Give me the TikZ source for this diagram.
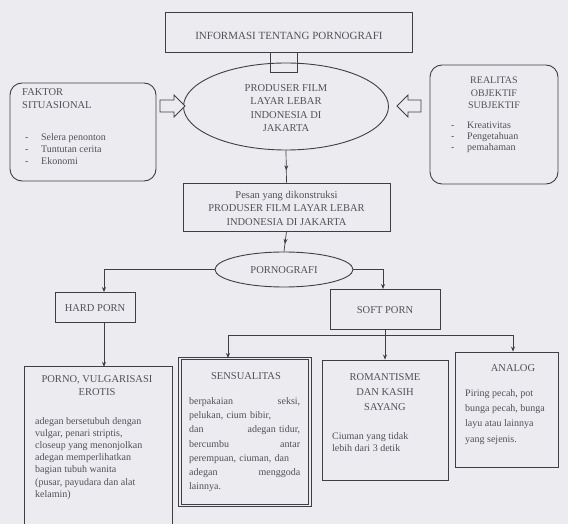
\documentclass[tikz,border=0pt]{standalone}
\usepackage{fontspec}
\setmainfont{Liberation Serif}
\usetikzlibrary{shapes.geometric,arrows.meta,decorations.markings}
\definecolor{paper}{RGB}{236,236,240}
\definecolor{ink}{RGB}{62,62,68}
\definecolor{inktext}{RGB}{80,80,88}
\begin{document}
\begin{tikzpicture}[x=1pt,y=-1pt,
  box/.style={draw=ink,line width=0.9pt,inner sep=0pt},
  rbox/.style={box,rounded corners=12pt},
  oval/.style={draw=ink,line width=0.9pt,ellipse,inner sep=0pt},
  txt/.style={text=inktext,font=\fontsize{10.5}{12.5}\selectfont,inner sep=0pt},
  ctxt/.style={txt,align=center},
  ltxt/.style={txt,align=left,anchor=north west},
  conn/.style={draw=ink,line width=0.7pt,-{Stealth[length=5pt,width=4pt]}},
  link/.style={draw=ink,line width=0.7pt},
  midarrow/.style={link,decoration={markings,mark=at position #1 with {\arrow{Stealth[length=5pt,width=4pt]}}},postaction={decorate}},
  blk/.style={draw=ink,line width=0.8pt,fill=paper,line join=miter},
]
\fill[paper] (0,0) rectangle (568,524);
\useasboundingbox (0,0) rectangle (568,524);

% top
\node[box,minimum width=247pt,minimum height=40pt] (info) at (288.5,32) {};
\node[ctxt,font=\fontsize{11}{13}\selectfont] (infot) at (289,36) {INFORMASI TENTANG PORNOGRAFI};
\draw[blk] (270,52) rectangle (297,72);

% producer ellipse
\node[oval,minimum width=205pt,minimum height=87pt] (prod) at (286,106.5) {};
\node[ctxt,font=\fontsize{10.5}{13.3}\selectfont] (prodt) at (286,108) {PRODUSER FILM\\LAYAR LEBAR\\INDONESIA DI\\JAKARTA};

% left rounded box
\node[rbox,minimum width=146pt,minimum height=98pt] (situ) at (83,132) {};
\node[ltxt,font=\fontsize{10.5}{13}\selectfont] (situt) at (22,88) {FAKTOR\\SITUASIONAL};
\node[ltxt,font=\fontsize{10}{12}\selectfont] (situb) at (25,133) {\makebox[16pt][l]{-}Selera penonton\\\makebox[16pt][l]{-}Tuntutan cerita\\\makebox[16pt][l]{-}Ekonomi};

% right rounded box
\node[rbox,minimum width=128pt,minimum height=119pt] (real) at (494,124.5) {};
\node[ctxt,font=\fontsize{10}{12.5}\selectfont] (realt) at (494,93) {REALITAS\\OBJEKTIF\\SUBJEKTIF};
\node[ltxt,font=\fontsize{10}{11}\selectfont] (realb) at (451,122) {\makebox[16pt][l]{-}Kreativitas\\\makebox[16pt][l]{-}Pengetahuan\\\makebox[16pt][l]{-}pemahaman};

% block arrows
\draw[blk] (160,100) -- (174,100) -- (174,95) -- (185,106) -- (174,117) -- (174,112) -- (160,112) -- cycle;
\draw[blk] (421,100) -- (408,100) -- (408,95) -- (397,106) -- (408,117) -- (408,112) -- (421,112) -- cycle;

% message box
\node[box,minimum width=207pt,minimum height=48pt] (msg) at (286.5,207) {};
\node[ctxt,font=\fontsize{10.5}{13.5}\selectfont] (msgt) at (286.5,208) {Pesan yang dikonstruksi\\PRODUSER FILM LAYAR LEBAR\\INDONESIA DI JAKARTA};
\draw[midarrow=0.62] (prod.south) -- (msg.north);

% pornografi ellipse
\node[oval,minimum width=138pt,minimum height=35pt] (porn) at (284,269.5) {};
\node[ctxt] (pornt) at (284,270) {PORNOGRAFI};
\draw[midarrow=0.62] (msg.south) -- (porn.north);

% hard / soft
\node[box,minimum width=80pt,minimum height=30pt] (hard) at (95,307) {};
\node[ctxt] (hardt) at (95,308) {HARD PORN};
\node[box,minimum width=110pt,minimum height=40pt] (soft) at (385,309) {};
\node[ctxt] (softt) at (385,310) {SOFT PORN};
\coordinate (hardin) at (104,292);
\coordinate (softin) at (383,289);
\draw[conn] (porn.west) -| (hardin);
\draw[conn] (porn.east) -| (softin);

% porno box (open at the bottom edge)
\node[minimum width=147pt,minimum height=157pt,inner sep=0pt] (vul) at (98.5,445.5) {};
\draw[ink,line width=0.9pt] (vul.south west) -- (vul.north west) -- (vul.north east) -- (vul.south east);
\coordinate (hardout) at (104,322);
\draw[conn] (hardout) -- (hardout |- vul.north);
\node[ctxt,font=\fontsize{10.5}{13}\selectfont] (vult) at (97,386) {PORNO, VULGARISASI\\EROTIS};
\node[ltxt,font=\fontsize{10}{12.2}\selectfont] (vulb) at (35,417) {adegan bersetubuh dengan\\vulgar, penari striptis,\\closeup yang menonjolkan\\adegan memperlihatkan\\bagian tubuh wanita\\(pusar, payudara dan alat\\kelamin)};

% soft branches
\coordinate (bus) at (385,335);
\coordinate (busL) at (228,335);
\coordinate (busR) at (513,335);
\draw[link] (soft.south) -- (bus);
\draw[link] (busL) -- (busR);

\node[box,double=paper,double distance=1.8pt,minimum width=130pt,minimum height=147pt] (sens) at (245,432) {};
\node[box,minimum width=126pt,minimum height=120pt] (roma) at (385,420) {};
\node[box,minimum width=103pt,minimum height=115pt] (anal) at (506.5,409.5) {};
\draw[conn] (busL) -- (busL |- sens.north);
\draw[conn] (bus) -- (roma.north);
\draw[conn] (busR) -- (busR |- anal.north);

\node[ctxt] (senst) at (246,376) {SENSUALITAS};
\node[ltxt,font=\fontsize{10}{14.3}\selectfont,text width=111pt] (sensb) at (189,397) {berpakaian\hfill seksi,\\pelukan, cium bibir,\\dan\hfill adegan tidur,\\bercumbu\hfill antar\\perempuan, ciuman, dan\\adegan\hfill menggoda\\lainnya.};

\node[ctxt,font=\fontsize{10.5}{15}\selectfont] (romat) at (385,392) {ROMANTISME\\DAN KASIH\\SAYANG};
\node[ltxt,font=\fontsize{10}{12.5}\selectfont] (romab) at (332,432) {Ciuman yang tidak\\lebih dari 3 detik};

\node[ctxt] (analt) at (513,368) {ANALOG};
\node[ltxt,font=\fontsize{10}{15.3}\selectfont] (analb) at (465,389) {Piring pecah, pot\\bunga pecah, bunga\\layu atau lainnya\\yang sejenis.};
\end{tikzpicture}
\end{document}
